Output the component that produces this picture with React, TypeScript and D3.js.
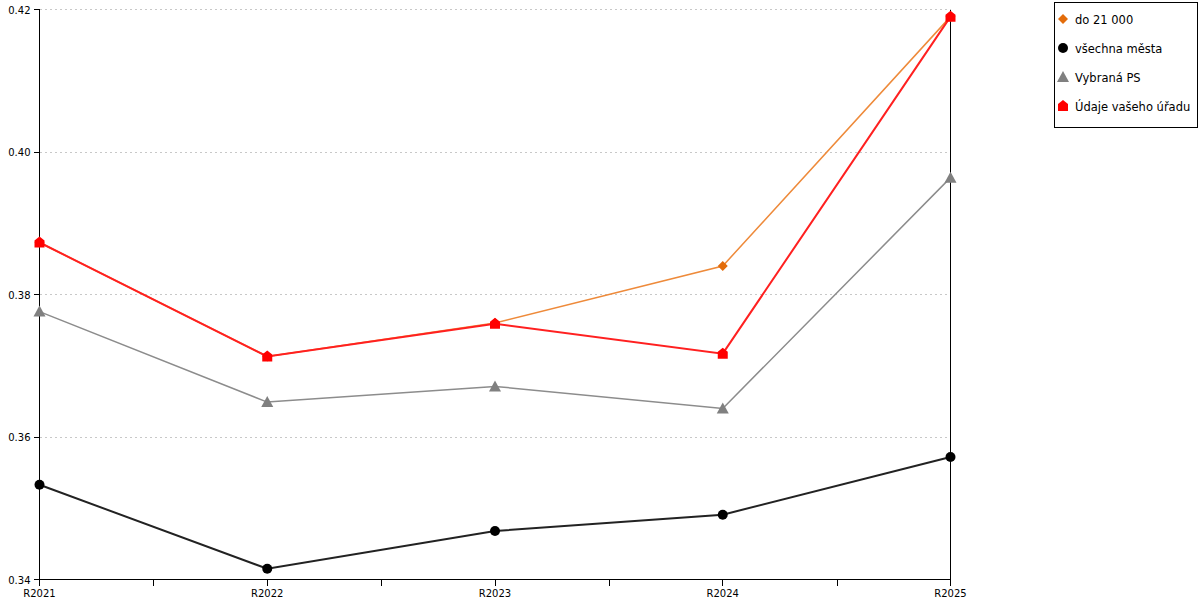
import React from "react";
import * as d3 from "d3";

const categories = ["R2021", "R2022", "R2023", "R2024", "R2025"];
const seriesNames = ["do 21 000", "všechna města", "Vybraná PS", "Údaje vašeho úřadu"];
const do21000 = [0.3873, 0.3713, 0.3760, 0.3840, 0.4190];
const vsechnaMesta = [0.3533, 0.3415, 0.3468, 0.3491, 0.3572];
const vybranaPS = [0.3776, 0.3649, 0.3671, 0.3640, 0.3964];
const udajeUradu = [0.3873, 0.3713, 0.3759, 0.3717, 0.4190];
const yTicks = [0.34, 0.36, 0.38, 0.40, 0.42];

const W = 1200;
const H = 600;
const FONT = "'DejaVu Sans', Verdana, sans-serif";

type Shape = "diamond" | "circle" | "triangle" | "house";

const styles: { color: string; line: string; width: number; shape: Shape }[] = [
  { color: "#E36C0A", line: "#EE8A3A", width: 1.5, shape: "diamond" },
  { color: "#000000", line: "#222222", width: 2, shape: "circle" },
  { color: "#808080", line: "#8C8C8C", width: 1.5, shape: "triangle" },
  { color: "#FF0000", line: "#FF2020", width: 2, shape: "house" },
];

function Marker({ shape, x, y, color }: { shape: Shape; x: number; y: number; color: string }) {
  if (shape === "diamond") {
    return <path d={`M${x},${y - 5}L${x + 5},${y}L${x},${y + 5}L${x - 5},${y}Z`} fill={color} />;
  }
  if (shape === "circle") {
    return <circle cx={x} cy={y} r={5} fill={color} />;
  }
  if (shape === "triangle") {
    return <path d={`M${x},${y - 6}L${x + 6},${y + 5}L${x - 6},${y + 5}Z`} fill={color} />;
  }
  return (
    <path
      d={`M${x},${y - 6}L${x + 5},${y - 2}L${x + 5},${y + 5}L${x - 5},${y + 5}L${x - 5},${y - 2}Z`}
      fill={color}
    />
  );
}

export default function App() {
  const x = d3.scalePoint<string>().domain(categories).range([39.5, 950.5]);
  const y = d3.scaleLinear().domain([0.34, 0.42]).range([579.5, 9.5]);
  const data = [do21000, vsechnaMesta, vybranaPS, udajeUradu];
  const line = d3
    .line<number>()
    .x((_, i) => x(categories[i]) as number)
    .y((v) => y(v));

  const catPos = categories.map((c) => x(c) as number);
  const midPos = catPos.slice(1).map((p, i) => Math.round((p + catPos[i]) / 2) + 0.5);
  const xMin = catPos[0];
  const xMax = catPos[catPos.length - 1];

  return (
    <svg
      width={W}
      height={H}
      style={{ position: "absolute", left: 0, top: 0, background: "#fff" }}
      fontFamily={FONT}
    >
      {/* gridlines */}
      {yTicks.slice(1).map((t) => (
        <line
          key={t}
          x1={xMin}
          x2={xMax}
          y1={y(t)}
          y2={y(t)}
          stroke="#c8c8c8"
          strokeDasharray="2,3"
          strokeWidth={1}
          shapeRendering="crispEdges"
        />
      ))}
      {/* axes */}
      <g shapeRendering="crispEdges" stroke="#000" strokeWidth={1}>
        <line x1={xMin} x2={xMin} y1={y(0.42)} y2={y(0.34)} />
        <line x1={xMax} x2={xMax} y1={y(0.42)} y2={y(0.34)} />
        <line x1={xMin} x2={xMax} y1={y(0.34)} y2={y(0.34)} />
        {yTicks.map((t) => (
          <line key={t} x1={xMin - 6} x2={xMin} y1={y(t)} y2={y(t)} />
        ))}
        {catPos.concat(midPos).map((p, i) => (
          <line key={i} x1={p} x2={p} y1={y(0.34)} y2={y(0.34) + 6} />
        ))}
      </g>
      {yTicks.map((t) => (
        <text key={t} x={xMin - 9} y={y(t) + 4} textAnchor="end" fontSize={10} fill="#000">
          {t.toFixed(2)}
        </text>
      ))}
      {categories.map((c) => (
        <text key={c} x={x(c)} y={597} textAnchor="middle" fontSize={10} fill="#000">
          {c}
        </text>
      ))}
      {/* series */}
      {data.map((vals, si) => (
        <g key={si}>
          <path d={line(vals) || ""} fill="none" stroke={styles[si].line} strokeWidth={styles[si].width} />
          {vals.map((v, i) => (
            <Marker key={i} shape={styles[si].shape} x={x(categories[i]) as number} y={y(v)} color={styles[si].color} />
          ))}
        </g>
      ))}
      {/* legend */}
      <rect x={1054.5} y={2.5} width={143} height={125} fill="#fff" stroke="#000" strokeWidth={1} shapeRendering="crispEdges" />
      {seriesNames.map((n, i) => (
        <g key={n}>
          <Marker shape={styles[i].shape} x={1063} y={19 + i * 29} color={styles[i].color} />
          <text x={1075} y={23.5 + i * 29} fontSize={11.5} fill="#000">
            {n}
          </text>
        </g>
      ))}
    </svg>
  );
}
